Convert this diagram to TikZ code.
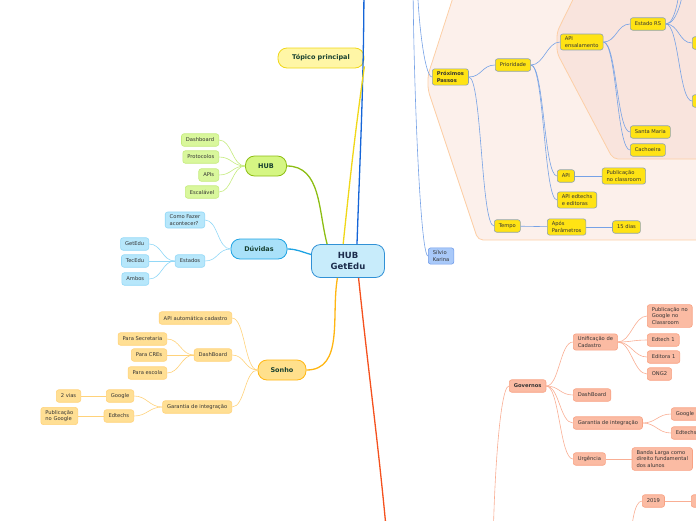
\documentclass[tikz,border=0pt]{standalone}
\usepackage{fontspec}
\setmainfont{DejaVu Sans}
\usepackage{xcolor}
\usetikzlibrary{positioning}
\definecolor{ink}{HTML}{333333}
\definecolor{rootink}{HTML}{1C2C4C}
\definecolor{topink}{HTML}{174030}
\definecolor{rootfill}{HTML}{C8ECFB}
\definecolor{rootline}{HTML}{3191D6}
\definecolor{tpcfill}{HTML}{FFF6A6}
\definecolor{tpcline}{HTML}{F0D718}
\definecolor{hubfill}{HTML}{D5F683}
\definecolor{hubline}{HTML}{8DBE14}
\definecolor{hubsoft}{HTML}{D9F79C}
\definecolor{hubedge}{HTML}{C4EB7C}
\definecolor{duvfill}{HTML}{A9E1F9}
\definecolor{duvline}{HTML}{1EA3E3}
\definecolor{duvsoft}{HTML}{B7E7FB}
\definecolor{duvedge}{HTML}{92D8F7}
\definecolor{sonfill}{HTML}{FFE08C}
\definecolor{sonline}{HTML}{FFB612}
\definecolor{sonsoft}{HTML}{FFDF94}
\definecolor{sonedge}{HTML}{FFD27A}
\definecolor{nxtfill}{HTML}{FFE314}
\definecolor{nxtedge}{HTML}{8FA3AE}
\definecolor{nxtlink}{HTML}{76A2E6}
\definecolor{silfill}{HTML}{A9C9F9}
\definecolor{siledge}{HTML}{6F9BEA}
\definecolor{govfill}{HTML}{FBBBA3}
\definecolor{govedge}{HTML}{F8A283}
\definecolor{govlink}{HTML}{F9AE94}
\definecolor{zoneout}{HTML}{FCF0EB}
\definecolor{zonein}{HTML}{F9E4DD}
\definecolor{zoneedge}{HTML}{FDCFA6}
\definecolor{upblue}{HTML}{1565D8}
\definecolor{downred}{HTML}{F4511E}
\tikzset{
  rootbox/.style={draw=rootline, fill=rootfill, line width=0.8pt, rounded corners=9pt, minimum width=73pt, minimum height=33pt, align=center, text=rootink, font=\bfseries\fontsize{8.5}{10.5}\selectfont},
  topicbox/.style={line width=0.8pt, rounded corners=9pt, minimum height=20pt, inner xsep=4pt, text=topink, font=\bfseries\fontsize{6.5}{8}\selectfont},
  leafbox/.style={rounded corners=2.5pt, line width=0.6pt, align=left, text=ink, inner xsep=4.5pt, inner ysep=2.8pt, minimum height=12.5pt, font=\fontsize{5.2}{6.5}\selectfont},
  hubleaf/.style={leafbox, fill=hubsoft, draw=hubedge},
  duvleaf/.style={leafbox, fill=duvsoft, draw=duvedge},
  sonleaf/.style={leafbox, fill=sonsoft, draw=sonedge},
  nxtleaf/.style={leafbox, fill=nxtfill, draw=nxtedge},
  govleaf/.style={leafbox, fill=govfill, draw=govedge},
  boldtext/.style={font=\bfseries\fontsize{5.2}{6.5}\selectfont},
  zone/.style={draw=zoneedge, line width=0.8pt, rounded corners=5pt},
  trunk/.style={line width=1.3pt},
  twig/.style={line width=0.6pt},
  goright/.style={out=0, in=180, distance=13pt},
  goleft/.style={out=180, in=0, distance=13pt},
}

\begin{document}
\begin{tikzpicture}[x=1pt, y=-1pt]
  \useasboundingbox (0,0) rectangle (696,520);
  \clip (0,0) rectangle (696,520);
  % zones round Próximos Passos and API ensalamento
  \path[zone, fill=zoneout] (478,-80) -- (428,75) -- (428,90) -- (478,240) -- (730,240) -- (730,-80) -- cycle;
  \path[zone, fill=zonein] (590,-35) -- (557,32) -- (557,53) -- (613,159) -- (730,159) -- (730,-35) -- cycle;

  \node[rootbox] (root) at (348,261) {HUB\\GetEdu};
  \node[topicbox, fill=tpcfill, draw=tpcline, minimum width=86pt] (topic) at (321,58) {Tópico principal};
  \node[topicbox, fill=hubfill, draw=hubline, minimum width=41pt] (hub) at (266,166) {HUB};
  \node[topicbox, fill=duvfill, draw=duvline, minimum width=56pt] (duv) at (259,249) {Dúvidas};
  \node[topicbox, fill=sonfill, draw=sonline, minimum width=48pt] (son) at (282,370) {Sonho};

  % HUB
  \node[hubleaf, anchor=east] (dash) at (219,140) {Dashboard};
  \node[hubleaf, anchor=east] (prot) at (219,157) {Protocolos};
  \node[hubleaf, anchor=east] (apis) at (219,175) {APIs};
  \node[hubleaf, anchor=east] (esc) at (219,192) {Escalável};

  % Dúvidas
  \node[duvleaf, anchor=east] (como) at (205,220) {Como Fazer\\acontecer?};
  \node[duvleaf, anchor=east] (est) at (205,261) {Estados};
  \node[duvleaf, anchor=east] (getedu) at (149,244) {GetEdu};
  \node[duvleaf, anchor=east] (tecedu) at (149,261) {TecEdu};
  \node[duvleaf, anchor=east] (ambos) at (149,279) {Ambos};

  % Sonho
  \node[sonleaf, anchor=east] (apiauto) at (232,318) {API automática cadastro};
  \node[sonleaf, anchor=east] (sdash) at (232,355) {DashBoard};
  \node[sonleaf, anchor=east] (sgar) at (232,407) {Garantia de integração};
  \node[sonleaf, anchor=east] (psec) at (167,339) {Para Secretaria};
  \node[sonleaf, anchor=east] (pcre) at (167,355) {Para CREs};
  \node[sonleaf, anchor=east] (pesc) at (167,373) {Para escola};
  \node[sonleaf, anchor=east] (sgoo) at (134,396) {Google};
  \node[sonleaf, anchor=east] (sedt) at (134,416) {Edtechs};
  \node[sonleaf, anchor=east] (vias) at (81,396) {2 vias};
  \node[sonleaf, anchor=east] (pubg) at (78,416) {Publicação\\no Google};

  % Próximos Passos
  \node[nxtleaf, boldtext, anchor=west] (prox) at (432,77) {Próximos\\Passos};
  \node[nxtleaf, anchor=west] (prio) at (495,65) {Prioridade};
  \node[nxtleaf, anchor=west] (apiens) at (560,42) {API\\ensalamento};
  \node[nxtleaf, anchor=west] (estrs) at (630,24) {Estado RS};
  \node[nxtleaf, anchor=west, minimum width=30pt] (rsa) at (692,43) {};
  \node[nxtleaf, anchor=west, minimum width=30pt] (rsb) at (692,101) {};
  \node[nxtleaf, anchor=west] (stm) at (630,132) {Santa Maria};
  \node[nxtleaf, anchor=west] (cach) at (630,150) {Cachoeira};
  \node[nxtleaf, anchor=west] (api) at (557,176) {API};
  \node[nxtleaf, right=27pt of api] (pubc) {Publicação\\no classroom};
  \node[nxtleaf, anchor=west] (apied) at (557,200) {API edtechs\\e editoras};
  \node[nxtleaf, anchor=west] (tempo) at (494,226) {Tempo};
  \node[nxtleaf, anchor=west] (apos) at (547,227) {Após\\Parâmetros};
  \node[nxtleaf, right=26pt of apos] (dias) {15 dias};
  \node[leafbox, fill=silfill, draw=siledge, anchor=west] (silvio) at (428,256) {Sílvio\\Karina};

  % Governos
  \node[govleaf, boldtext, anchor=west] (gov) at (509,386) {Governos};
  \node[govleaf, anchor=west] (unif) at (573,342) {Unificação de\\Cadastro};
  \node[govleaf, anchor=west] (pubcl) at (647,316) {Publicação no\\Google no\\Classroom};
  \node[govleaf, anchor=west] (edt) at (647,340) {Edtech 1};
  \node[govleaf, anchor=west] (edi) at (647,357) {Editora 1};
  \node[govleaf, anchor=west] (ong) at (647,374) {ONG2};
  \node[govleaf, anchor=west] (gdash) at (573,395) {DashBoard};
  \node[govleaf, anchor=west] (ggar) at (573,423) {Garantia de integração};
  \node[govleaf, anchor=west] (ggoo) at (671,414) {Google};
  \node[govleaf, anchor=west] (gedt) at (671,433) {Edtechs};
  \node[govleaf, anchor=west] (urg) at (573,459) {Urgência};
  \node[govleaf, right=26pt of urg] (banda) {Banda Larga como\\direito fundamental\\dos alunos};
  \node[govleaf, anchor=west] (year) at (642,501) {2019};
  \node[govleaf, anchor=west, minimum width=30pt] (yearnext) at (691,501) {};

  % branches that leave the frame
  \coordinate (upoff) at (364,-30);
  \coordinate (downoff) at (389,560);
  \coordinate (nxtoff) at (417,-30);
  \coordinate (siloff) at (413,-30);
  \coordinate (rsoffa) at (680,-20);
  \coordinate (rsoffb) at (684,-20);
  \coordinate (govoff) at (493,560);
  \coordinate (yearoff) at (631,545);

  \draw[trunk, upblue] (root.62) to[out=88, in=-90] (upoff);
  \draw[trunk, downred] (root.-58) to[out=-84, in=95] (downoff);
  \draw[trunk, tpcline] (root.106) to[out=84, in=-98] (topic.-11);
  \draw[trunk, hubline] (root.141) to[out=105, in=0] (hub.east);
  \draw[trunk, duvline] (root.170) to[out=165, in=0] (duv.east);
  \draw[trunk, sonline] (root.-122) to[out=-100, in=0] (son.east);

  \draw[twig, hubedge] (hub.west) to[goleft] (dash.east);
  \draw[twig, hubedge] (hub.west) to[goleft] (prot.east);
  \draw[twig, hubedge] (hub.west) to[goleft] (apis.east);
  \draw[twig, hubedge] (hub.west) to[goleft] (esc.east);

  \draw[twig, duvedge] (duv.west) to[goleft] (como.east);
  \draw[twig, duvedge] (duv.west) to[goleft] (est.east);
  \draw[twig, duvedge] (est.west) to[goleft] (getedu.east);
  \draw[twig, duvedge] (est.west) to[goleft] (tecedu.east);
  \draw[twig, duvedge] (est.west) to[goleft] (ambos.east);

  \draw[twig, sonedge] (son.west) to[goleft] (apiauto.east);
  \draw[twig, sonedge] (son.west) to[goleft] (sdash.east);
  \draw[twig, sonedge] (son.west) to[goleft] (sgar.east);
  \draw[twig, sonedge] (sdash.west) to[goleft] (psec.east);
  \draw[twig, sonedge] (sdash.west) to[goleft] (pcre.east);
  \draw[twig, sonedge] (sdash.west) to[goleft] (pesc.east);
  \draw[twig, sonedge] (sgar.west) to[goleft] (sgoo.east);
  \draw[twig, sonedge] (sgar.west) to[goleft] (sedt.east);
  \draw[twig, sonedge] (sgoo.west) -- (vias.east);
  \draw[twig, sonedge] (sedt.west) -- (pubg.east);

  \draw[twig, nxtlink] (nxtoff) to[out=-90, in=180, out distance=40pt, in distance=8pt] (prox.west);
  \draw[twig, nxtlink] (siloff) to[out=-90, in=180, out distance=100pt, in distance=8pt] (silvio.west);
  \draw[twig, nxtlink] (prox.east) to[goright] (prio.west);
  \draw[twig, nxtlink] (prox.east) to[goright] (tempo.west);
  \draw[twig, nxtlink] (prio.east) to[goright] (apiens.west);
  \draw[twig, nxtlink] (prio.east) to[goright] (api.west);
  \draw[twig, nxtlink] (prio.east) to[goright] (apied.west);
  \draw[twig, nxtlink] (apiens.east) to[goright] (estrs.west);
  \draw[twig, nxtlink] (apiens.east) to[goright] (stm.west);
  \draw[twig, nxtlink] (apiens.east) to[goright] (cach.west);
  \draw[twig, nxtlink] (estrs.east) to[out=0, in=-90, distance=10pt] (rsoffa);
  \draw[twig, nxtlink] (estrs.east) to[out=0, in=-90, distance=12pt] (rsoffb);
  \draw[twig, nxtlink] (estrs.east) to[goright] (rsa.west);
  \draw[twig, nxtlink] (estrs.east) to[goright] (rsb.west);
  \draw[twig, nxtlink] (api) -- (pubc);
  \draw[twig, nxtlink] (tempo) -- (apos);
  \draw[twig, nxtlink] (apos) -- (dias);

  \draw[twig, govlink] (govoff) to[out=90, in=180, out distance=60pt, in distance=10pt] (gov.west);
  \draw[twig, govlink] (gov.east) to[goright] (unif.west);
  \draw[twig, govlink] (gov.east) to[goright] (gdash.west);
  \draw[twig, govlink] (gov.east) to[goright] (ggar.west);
  \draw[twig, govlink] (gov.east) to[goright] (urg.west);
  \draw[twig, govlink] (unif.east) to[goright] (pubcl.west);
  \draw[twig, govlink] (unif.east) to[goright] (edt.west);
  \draw[twig, govlink] (unif.east) to[goright] (edi.west);
  \draw[twig, govlink] (unif.east) to[goright] (ong.west);
  \draw[twig, govlink] (ggar.east) to[goright] (ggoo.west);
  \draw[twig, govlink] (ggar.east) to[goright] (gedt.west);
  \draw[twig, govlink] (urg) -- (banda);
  \draw[twig, govlink] (yearoff) to[out=90, in=180, in distance=8pt] (year.west);
  \draw[twig, govlink] (year) -- (yearnext);
\end{tikzpicture}
\end{document}
